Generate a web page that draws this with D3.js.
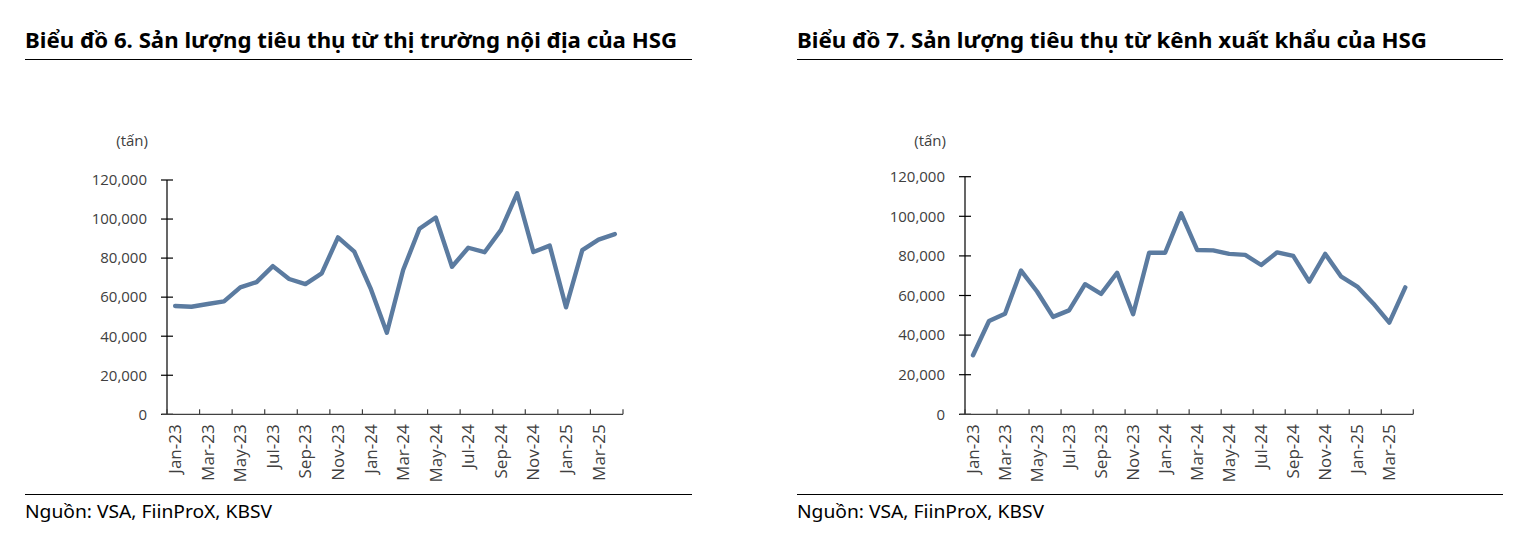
<!DOCTYPE html>
<html>
<head>
<meta charset="utf-8">
<script src="https://cdn.jsdelivr.net/npm/d3@7"></script>
<style>
  html, body { margin: 0; padding: 0; background: #fff; }
  svg { display: block; }
</style>
</head>
<body>
<svg id="chart" width="1528" height="533"></svg>
<script>
// ---- Data ----
const months = ["Jan-23","Feb-23","Mar-23","Apr-23","May-23","Jun-23","Jul-23","Aug-23","Sep-23","Oct-23","Nov-23","Dec-23",
                "Jan-24","Feb-24","Mar-24","Apr-24","May-24","Jun-24","Jul-24","Aug-24","Sep-24","Oct-24","Nov-24","Dec-24",
                "Jan-25","Feb-25","Mar-25","Apr-25"];
const domesticValues = [55500, 55100, 56500, 57800, 65000, 67700, 75900, 69300, 66700, 72200, 90600, 83300,
                        64500, 41800, 73900, 95000, 100800, 75600, 85300, 83000, 94300, 113200, 83100, 86400,
                        54800, 84100, 89500, 92300];
const exportValues = [29800, 47100, 50800, 72600, 62000, 49200, 52500, 65700, 60800, 71500, 50500, 81600,
                      81600, 101500, 83000, 82800, 81000, 80500, 75400, 81800, 80000, 67000, 81000, 69500,
                      64500, 56000, 46300, 64100];
const yTicks = [0, 20000, 40000, 60000, 80000, 100000, 120000];
const titles = ["Biểu đồ 6. Sản lượng tiêu thụ từ thị trường nội địa của HSG",
                "Biểu đồ 7. Sản lượng tiêu thụ từ kênh xuất khẩu của HSG"];
const unitLabel = "(tấn)";
const sourceText = "Nguồn: VSA, FiinProX, KBSV";

// ---- Layout ----
const svg = d3.select("#chart");
const panels = [
  { values: domesticValues, title: titles[0], left: 25, right: 692, axisX0: 167, axisX1: 623, yTop: 180, yBottom: 414.3, titleWidth: 652 },
  { values: exportValues,   title: titles[1], left: 797, right: 1503, axisX0: 965, axisX1: 1413.3, yTop: 176.7, yBottom: 414.3, titleWidth: 630 }
];
const axisFont = "'Open Sans', 'Noto Sans', sans-serif";
const axisColor = "#404040";
const lineColor = "#5B7BA0";

function fitText(sel, width) {
  sel.attr("textLength", width).attr("lengthAdjust", "spacingAndGlyphs");
}

panels.forEach(p => {
  const g = svg.append("g");

  // Title
  const t = g.append("text")
    .attr("x", p.left).attr("y", 48)
    .attr("font-family", "'Noto Sans', 'Open Sans', sans-serif")
    .attr("font-weight", 700)
    .attr("font-size", 22)
    .attr("fill", "#000")
    .text(p.title);
  fitText(t, p.titleWidth);

  g.append("line").attr("x1", p.left).attr("x2", p.right).attr("y1", 59.5).attr("y2", 59.5)
    .attr("stroke", "#000").attr("stroke-width", 1);
  g.append("line").attr("x1", p.left).attr("x2", p.right).attr("y1", 494.5).attr("y2", 494.5)
    .attr("stroke", "#000").attr("stroke-width", 1);

  const s = g.append("text")
    .attr("x", p.left).attr("y", 518)
    .attr("font-family", "'Noto Sans', 'Open Sans', sans-serif")
    .attr("font-size", 18)
    .attr("fill", "#000")
    .text(sourceText);
  fitText(s, 247);

  // Scales
  const x = d3.scaleBand().domain(months).range([p.axisX0, p.axisX1]).paddingInner(0).paddingOuter(0);
  const y = d3.scaleLinear().domain([0, 120000]).range([p.yBottom, p.yTop]);

  // Unit label
  g.append("text")
    .attr("x", p.axisX0 - 19).attr("y", 146)
    .attr("text-anchor", "end")
    .attr("font-family", axisFont).attr("font-size", 15).attr("fill", axisColor)
    .text(unitLabel);

  // Y axis
  const yAxis = d3.axisLeft(y).tickValues(yTicks).tickFormat(d3.format(",")).tickSize(0).tickPadding(20);
  const ya = g.append("g").attr("transform", `translate(${p.axisX0},0)`).call(yAxis);
  ya.select(".domain").remove();
  ya.selectAll("text").attr("font-family", axisFont).attr("font-size", 15).attr("fill", axisColor);
  g.append("line").attr("x1", p.axisX0).attr("x2", p.axisX0).attr("y1", p.yTop).attr("y2", p.yBottom)
    .attr("stroke", "#000").attr("stroke-width", 1.2);
  g.selectAll(".ytick").data(yTicks).join("line").attr("class", "ytick")
    .attr("x1", p.axisX0 - 6).attr("x2", p.axisX0 + 6)
    .attr("y1", d => y(d)).attr("y2", d => y(d))
    .attr("stroke", "#000").attr("stroke-width", 1.2);

  // X axis
  g.append("line").attr("x1", p.axisX0 - 5).attr("x2", p.axisX1).attr("y1", p.yBottom).attr("y2", p.yBottom)
    .attr("stroke", "#404040").attr("stroke-width", 1.2);
  const tickIdx = d3.range(0, months.length + 1, 2);
  g.selectAll(".xtick").data(tickIdx).join("line").attr("class", "xtick")
    .attr("x1", d => p.axisX0 + d * x.bandwidth()).attr("x2", d => p.axisX0 + d * x.bandwidth())
    .attr("y1", p.yBottom - 5).attr("y2", p.yBottom)
    .attr("stroke", "#404040").attr("stroke-width", 1.2);
  const labelMonths = months.filter((m, i) => i % 2 === 0);
  g.selectAll(".xlab").data(labelMonths).join("text").attr("class", "xlab")
    .attr("transform", d => `translate(${x(d) + x.bandwidth() / 2 + 6},${p.yBottom + 10}) rotate(-90)`)
    .attr("text-anchor", "end")
    .attr("font-family", axisFont).attr("font-size", 17).attr("fill", axisColor)
    .text(d => d);

  // Line
  const line = d3.line().x((d, i) => x(months[i]) + x.bandwidth() / 2).y(d => y(d));
  g.append("path").datum(p.values)
    .attr("d", line)
    .attr("fill", "none")
    .attr("stroke", lineColor)
    .attr("stroke-width", 4.4)
    .attr("stroke-linejoin", "round")
    .attr("stroke-linecap", "round");
});
</script>
</body>
</html>
